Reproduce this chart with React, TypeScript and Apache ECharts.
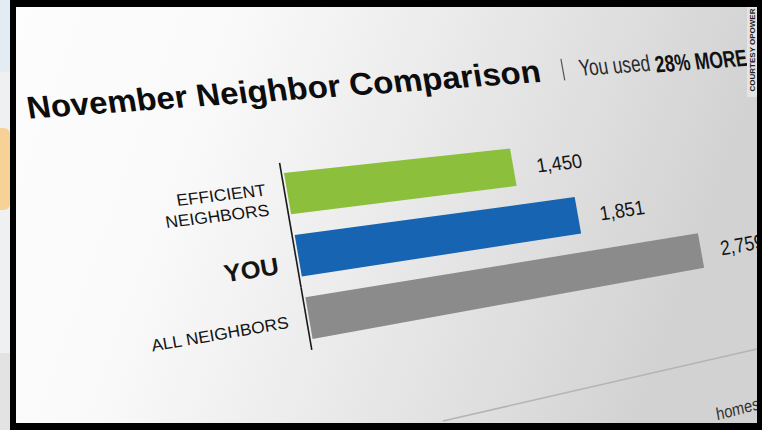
import React, { useEffect, useRef } from 'react';
import * as echarts from 'echarts';

// ---------- data ----------
const CATEGORIES = ['EFFICIENT\nNEIGHBORS', 'YOU', 'ALL NEIGHBORS'];
const VALUES = [1450, 1851, 2759];
const BAR_COLORS = ['#8bbf3c', '#1764b2', '#8b8b8b'];
const TITLE = 'November Neighbor Comparison';
const SUB_PLAIN = 'You used';
const SUB_BOLD = '28% MORE';
const CREDIT = 'COURTESY OPOWER';
const FOOTNOTE = 'homes';
const X_MAX = 3000;

// ---------- layout / style ----------
const FONT = '"Liberation Sans", Arial, Helvetica, sans-serif';
const GRID = { left: 100, top: 80, width: 600, height: 225 };
const CAT_FONT_SIZE = [17, 25, 17];
const CAT_FONT_WEIGHT = ['normal', 'bold', 'normal'];
const CAT_DY = [5, 8, 1];

// image positions of the bar corners, measured on the photographed screen (perspective calibration)
const CALIB_IMG: number[][][] = [
  [[284, 172], [291, 213], [512, 149], [515, 187]],
  [[295, 235], [299, 277], [574, 198], [580, 233]],
  [[308, 297], [313, 340], [699, 233], [704, 267]],
];

const BAND = GRID.height / CATEGORIES.length;
const flatX = (v: number) => GRID.left + (GRID.width * v) / X_MAX;
const flatY = (i: number) => GRID.top + BAND * (i + 0.5);
const CALIB_FLAT: number[][] = VALUES.flatMap((v, i) => [
  [flatX(0), flatY(i) - BAND / 3],
  [flatX(0), flatY(i) + BAND / 3],
  [flatX(v), flatY(i) - BAND / 3],
  [flatX(v), flatY(i) + BAND / 3],
]);

function solve(A: number[][], b: number[]): number[] {
  const n = b.length;
  const M = A.map((r, i) => [...r, b[i]]);
  for (let c = 0; c < n; c++) {
    let p = c;
    for (let r = c + 1; r < n; r++) if (Math.abs(M[r][c]) > Math.abs(M[p][c])) p = r;
    const tmp = M[c]; M[c] = M[p]; M[p] = tmp;
    for (let r = 0; r < n; r++) {
      if (r === c) continue;
      const f = M[r][c] / M[c][c];
      for (let k = c; k <= n; k++) M[r][k] -= f * M[c][k];
    }
  }
  return M.map((r, i) => r[n] / r[i]);
}

function fitH(src: number[][], dst: number[][]) {
  const cs = [400, 200], ss = 200, cd = [400, 220], sd = 200;
  const rows: number[][] = [], rhs: number[] = [];
  src.forEach(([x0, y0], i) => {
    const x = (x0 - cs[0]) / ss, y = (y0 - cs[1]) / ss;
    const X = (dst[i][0] - cd[0]) / sd, Y = (dst[i][1] - cd[1]) / sd;
    rows.push([x, y, 1, 0, 0, 0, -x * X, -y * X]); rhs.push(X);
    rows.push([0, 0, 0, x, y, 1, -x * Y, -y * Y]); rhs.push(Y);
  });
  const AtA: number[][] = [], Atb: number[] = [];
  for (let a = 0; a < 8; a++) {
    AtA.push([]);
    let s = 0;
    for (let r = 0; r < rows.length; r++) s += rows[r][a] * rhs[r];
    Atb.push(s);
    for (let b = 0; b < 8; b++) {
      let t = 0;
      for (let r = 0; r < rows.length; r++) t += rows[r][a] * rows[r][b];
      AtA[a].push(t);
    }
  }
  const h = solve(AtA, Atb);
  return (px: number, py: number): [number, number] => {
    const x = (px - cs[0]) / ss, y = (py - cs[1]) / ss;
    const w = h[6] * x + h[7] * y + 1;
    return [((h[0] * x + h[1] * y + h[2]) / w) * sd + cd[0], ((h[3] * x + h[4] * y + h[5]) / w) * sd + cd[1]];
  };
}

const IMG_POINTS = CALIB_IMG.flat();
const H = fitH(CALIB_FLAT, IMG_POINTS);
const HINV = fitH(IMG_POINTS, CALIB_FLAT);

function affineAt(fx: number, fy: number, kx = 1, ky = 1) {
  const p0 = H(fx, fy), px = H(fx + 1, fy), py = H(fx, fy + 1);
  let a = px[0] - p0[0], b = px[1] - p0[1], c = py[0] - p0[0], d = py[1] - p0[1];
  const s = Math.sqrt(Math.abs(a * d - b * c));
  a = (a / s) * kx; b = (b / s) * kx; c = (c / s) * ky; d = (d / s) * ky;
  const E = (a + d) / 2, F = (a - d) / 2, G = (b + c) / 2, Hh = (b - c) / 2;
  const Q = Math.hypot(E, Hh), R = Math.hypot(F, G);
  const a1 = Math.atan2(G, F), a2 = Math.atan2(Hh, E);
  const theta = (a2 - a1) / 2, phi = (a2 + a1) / 2;
  return { x: p0[0], y: p0[1], rotation: -phi, scaleX: Q + R, scaleY: Q - R, inner: -theta };
}

function warpText(fx: number, fy: number, style: any, z = 10, kx = 1, ky = 1, pos?: number[]) {
  const t = affineAt(fx, fy, kx, ky);
  return {
    type: 'group',
    x: pos ? pos[0] : t.x,
    y: pos ? pos[1] : t.y,
    rotation: t.rotation,
    scaleX: t.scaleX,
    scaleY: t.scaleY,
    z,
    children: [{ type: 'text', rotation: t.inner, z, style: { fontFamily: FONT, fill: '#141414', ...style } }],
  };
}

function textAtImage(ix: number, iy: number, style: any, z = 10, kx = 1, ky = 1) {
  const f = HINV(ix, iy);
  return warpText(f[0], f[1], style, z, kx, ky, [ix, iy]);
}

export default function App() {
  const ref = useRef<HTMLDivElement>(null);
  useEffect(() => {
    if (!ref.current) return;
    const chart = echarts.init(ref.current, undefined, { renderer: 'svg' });

    const sepF = HINV(563, 69);
    const sepA = H(sepF[0], sepF[1] - 15);
    const sepB = H(sepF[0], sepF[1] + 15);

    const graphics: any[] = [
      { type: 'rect', z: 0, shape: { x: 0, y: 0, width: 14, height: 430 }, style: { fill: '#eef0f2' } },
      { type: 'rect', z: 0, shape: { x: 0, y: 0, width: 10, height: 72 }, style: { fill: '#e3ebf3' } },
      { type: 'rect', z: 0, shape: { x: -6, y: 128, width: 16, height: 82, r: 6 }, style: { fill: '#f7d296' } },
      { type: 'rect', z: 0, shape: { x: 0, y: 353, width: 14, height: 77 }, style: { fill: '#e3e3e3' } },
      {
        type: 'rect', z: 1,
        shape: { x: 14, y: 5, width: 745, height: 420 },
        style: {
          fill: new echarts.graphic.LinearGradient(0, 0, 1, 0.2, [
            { offset: 0, color: '#fdfdfd' },
            { offset: 0.3, color: '#f9f9f9' },
            { offset: 0.55, color: '#ececec' },
            { offset: 0.8, color: '#dedede' },
            { offset: 1, color: '#d2d2d2' },
          ]),
        },
      },
      textAtImage(27, 108, { text: TITLE, fontSize: 34, fontWeight: 'bold', align: 'left', verticalAlign: 'middle', fill: '#0d0d0d' }, 10, 0.9, 1),
      { type: 'line', z: 10, shape: { x1: sepA[0], y1: sepA[1], x2: sepB[0], y2: sepB[1] }, style: { stroke: '#555', lineWidth: 1.2 } },
      textAtImage(579, 68, { text: SUB_PLAIN, fontSize: 22, align: 'left', verticalAlign: 'middle', fill: '#2a2a2a' }, 10, 0.82, 1),
      textAtImage(655, 64, { text: SUB_BOLD, fontSize: 22, fontWeight: 'bold', align: 'left', verticalAlign: 'middle', fill: '#111' }, 10, 0.85, 1),
      { type: 'line', z: 10, shape: { x1: 443, y1: 421, x2: 757, y2: 349 }, style: { stroke: '#b4b4b4', lineWidth: 1.5 } },
      textAtImage(716, 414, { text: FOOTNOTE, fontSize: 16, align: 'left', verticalAlign: 'middle', fill: '#333' }),
      { type: 'rect', z: 50, shape: { x: 747, y: 5, width: 11, height: 92 }, style: { fill: '#e4e4e4' } },
      {
        type: 'text', z: 51, x: 752.5, y: 50, rotation: Math.PI / 2,
        style: { text: CREDIT, fontSize: 8, fontWeight: 'bold', fontFamily: FONT, fill: '#222', align: 'center', verticalAlign: 'middle' },
      },
      { type: 'rect', z: 100, shape: { x: 10, y: 0, width: 752, height: 7 }, style: { fill: '#000' } },
      { type: 'rect', z: 100, shape: { x: 10, y: 0, width: 6, height: 430 }, style: { fill: '#000' } },
      { type: 'rect', z: 100, shape: { x: 10, y: 423, width: 752, height: 7 }, style: { fill: '#000' } },
      { type: 'rect', z: 100, shape: { x: 757, y: 0, width: 5, height: 430 }, style: { fill: '#000' } },
    ];

    chart.setOption({
      animation: false,
      backgroundColor: '#eef0f2',
      grid: { left: GRID.left, top: GRID.top, width: GRID.width, height: GRID.height, containLabel: false },
      xAxis: { type: 'value', min: 0, max: X_MAX, show: false },
      yAxis: { type: 'category', data: CATEGORIES, inverse: true, show: false },
      graphic: { elements: graphics },
      series: [
        {
          type: 'custom',
          coordinateSystem: 'cartesian2d',
          silent: true,
          z: 5,
          encode: { x: 0, y: 1 },
          data: VALUES.map((v, i) => [v, i]),
          renderItem: (params: any, api: any) => {
            const i = params.dataIndex;
            const cat = api.value(1);
            const end = api.coord([api.value(0), cat]);
            const org = api.coord([0, cat]);
            const band = api.size([0, 1])[1];
            const hb = band / 3;
            const quad = [
              [org[0], org[1] - hb], [end[0], end[1] - hb], [end[0], end[1] + hb], [org[0], org[1] + hb],
            ].map((p) => H(p[0], p[1]));
            const axA = H(org[0] - 3, org[1] - band / 2);
            const axB = H(org[0] - 3, org[1] + band / 2);
            const label = VALUES[i].toLocaleString('en-US');
            return {
              type: 'group',
              children: [
                { type: 'polygon', shape: { points: quad }, style: { fill: BAR_COLORS[i] } },
                { type: 'line', shape: { x1: axA[0], y1: axA[1], x2: axB[0], y2: axB[1] }, style: { stroke: '#1a1a1a', lineWidth: 1.6 } },
                warpText(end[0] + 33, end[1] + 2, { text: label, fontSize: 19, align: 'left', verticalAlign: 'middle' }, 6),
                warpText(org[0] - 24, org[1] + CAT_DY[i], {
                  text: CATEGORIES[i], fontSize: CAT_FONT_SIZE[i], fontWeight: CAT_FONT_WEIGHT[i],
                  align: 'right', verticalAlign: 'middle', lineHeight: 21,
                }, 6),
              ],
            };
          },
        },
      ],
    });
    return () => chart.dispose();
  }, []);
  return <div ref={ref} style={{ position: 'fixed', left: 0, top: 0, width: 762, height: 430 }} />;
}
